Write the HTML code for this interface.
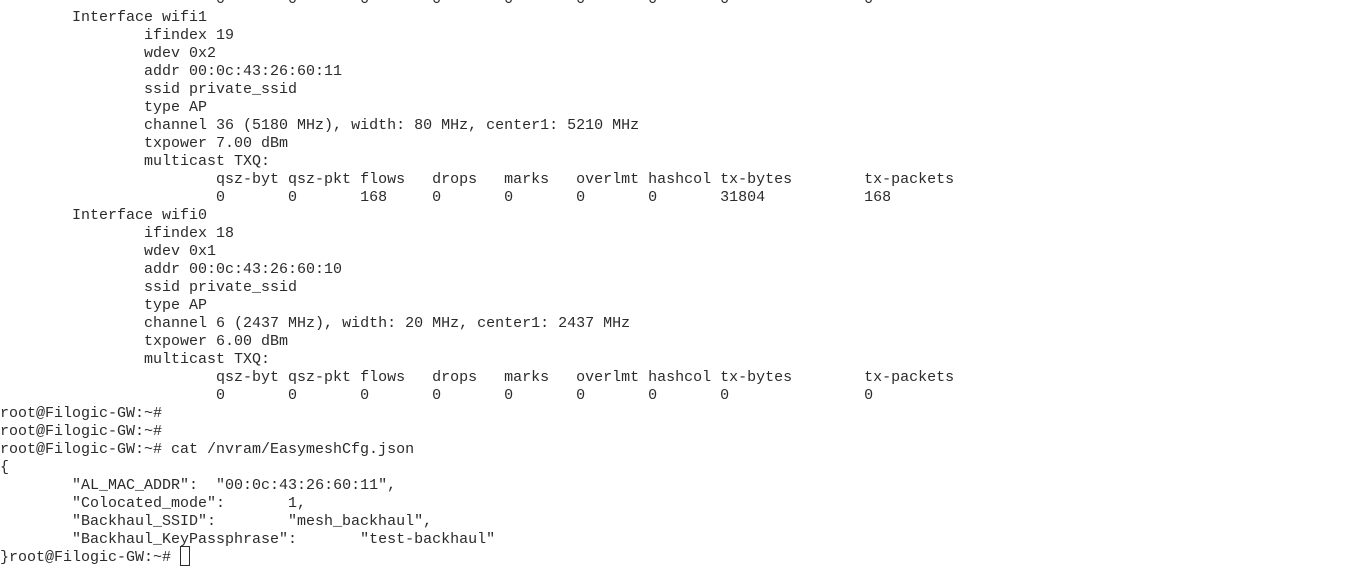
<!DOCTYPE html>
<html><head><meta charset="utf-8"><style>
html,body{margin:0;padding:0;background:#fff;width:1352px;height:575px;overflow:hidden;}
pre{position:absolute;left:0;top:-9px;margin:0;font-family:"Liberation Mono","DejaVu Sans Mono",monospace;font-size:15px;line-height:18px;color:#2b2b2b;tab-size:8;-moz-tab-size:8;white-space:pre;}
.cur{position:absolute;left:180px;top:546px;width:8px;height:18px;border:1px solid #2b2b2b;}
</style></head><body>
<pre>			0	0	0	0	0	0	0	0		0
	Interface wifi1
		ifindex 19
		wdev 0x2
		addr 00:0c:43:26:60:11
		ssid private_ssid
		type AP
		channel 36 (5180 MHz), width: 80 MHz, center1: 5210 MHz
		txpower 7.00 dBm
		multicast TXQ:
			qsz-byt	qsz-pkt	flows	drops	marks	overlmt	hashcol	tx-bytes	tx-packets
			0	0	168	0	0	0	0	31804		168
	Interface wifi0
		ifindex 18
		wdev 0x1
		addr 00:0c:43:26:60:10
		ssid private_ssid
		type AP
		channel 6 (2437 MHz), width: 20 MHz, center1: 2437 MHz
		txpower 6.00 dBm
		multicast TXQ:
			qsz-byt	qsz-pkt	flows	drops	marks	overlmt	hashcol	tx-bytes	tx-packets
			0	0	0	0	0	0	0	0		0
root@Filogic-GW:~#
root@Filogic-GW:~#
root@Filogic-GW:~# cat /nvram/EasymeshCfg.json
{
	"AL_MAC_ADDR":	"00:0c:43:26:60:11",
	"Colocated_mode":	1,
	"Backhaul_SSID":	"mesh_backhaul",
	"Backhaul_KeyPassphrase":	"test-backhaul"
}root@Filogic-GW:~# </pre>
<div class="cur"></div>
</body></html>
